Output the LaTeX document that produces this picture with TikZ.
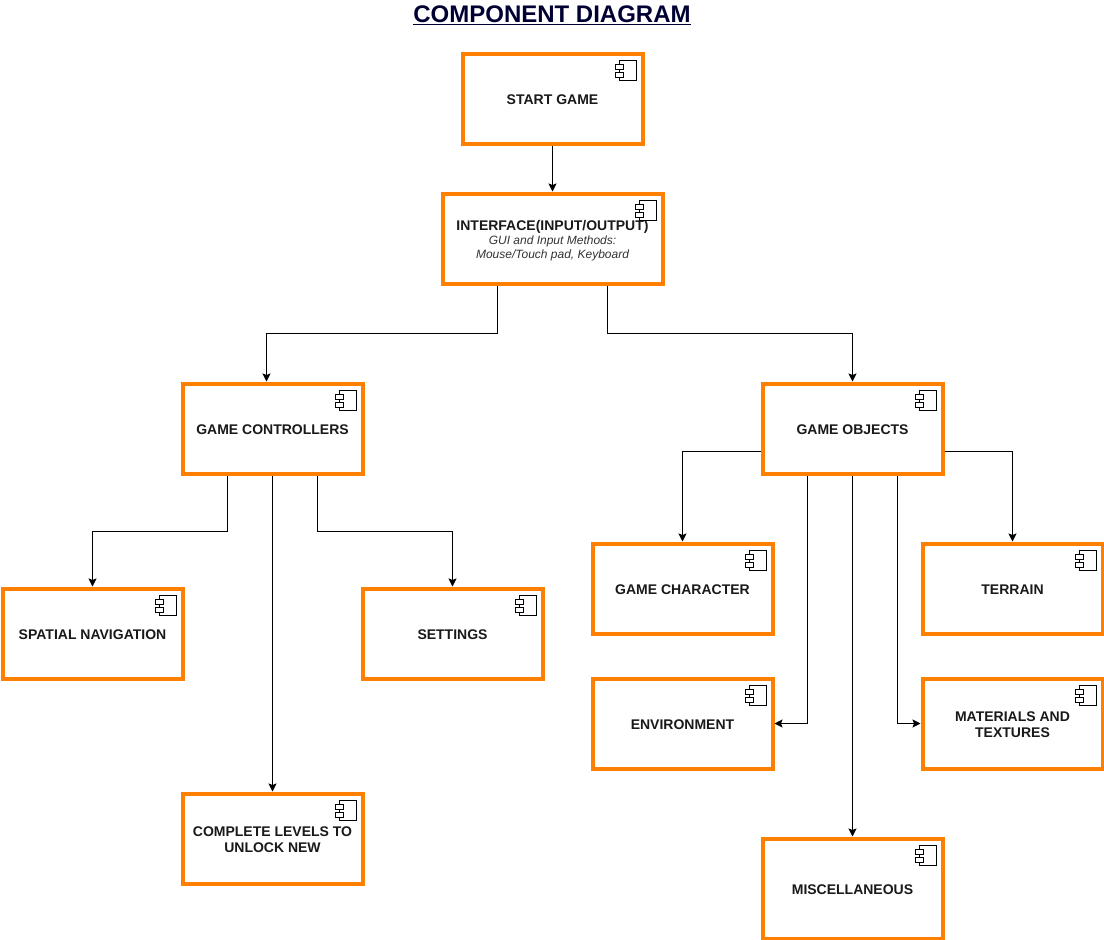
\documentclass[tikz,border=0pt]{standalone}
\usepackage{fontspec}
\setmainfont{Liberation Sans}
\usetikzlibrary{arrows.meta}
\definecolor{boxorange}{HTML}{FF8000}
\definecolor{titlenavy}{HTML}{000033}
\definecolor{subgray}{HTML}{333333}
\newcommand{\compicon}[1]{%
  \begin{scope}[shift={(#1.north east)},x=1pt,y=-1pt,line width=1pt]
    \draw[fill=white] (-25,9) rectangle (-8,29);
    \draw[fill=white] (-29,13) rectangle (-21,17.5);
    \draw[fill=white] (-29,21) rectangle (-21,25.5);
  \end{scope}}
\tikzset{
  compbox/.style={draw=boxorange,line width=4pt,fill=white,inner sep=0pt,
    minimum width=180pt,minimum height=90pt,align=center,text height=12pt,
    font=\fontsize{14}{16}\selectfont\bfseries,text=black!90},
  twoline/.style={text height=28pt},
  link/.style={draw=black,line width=1pt,-{Stealth[length=8pt,width=8pt,inset=1.5pt]}},
}
\begin{document}
\begin{tikzpicture}[x=1pt,y=-1pt]
\useasboundingbox (0,0) rectangle (1104,940);
\begin{scope}[shift={(0.5,0.5)}]
\node[font=\fontsize{24}{28}\selectfont\bfseries,text=titlenavy,inner sep=0pt] (title) at (551.5,14.5) {\underline{COMPONENT DIAGRAM}};
\node[compbox] (start) at (552,98) {START GAME};
\node[compbox,minimum width=220pt,text height=43pt] (iface) at (552,238) {INTERFACE(INPUT/OUTPUT)\\[-2pt]
  {\fontsize{12}{14}\selectfont\mdseries\itshape\color{subgray}GUI and Input Methods:}\\[-2pt]
  {\fontsize{12}{14}\selectfont\mdseries\itshape\color{subgray}Mouse/Touch pad, Keyboard}};
\node[compbox] (ctrl) at (272,428) {GAME CONTROLLERS};
\node[compbox] (obj) at (852,428) {GAME OBJECTS};
\node[compbox] (spatial) at (92,633) {SPATIAL NAVIGATION};
\node[compbox] (settings) at (452,633) {SETTINGS};
\node[compbox,twoline] (levels) at (272,838) {COMPLETE LEVELS TO\\UNLOCK NEW};
\node[compbox] (char) at (682,588) {GAME CHARACTER};
\node[compbox] (terrain) at (1012,588) {TERRAIN};
\node[compbox] (env) at (682,723) {ENVIRONMENT};
\node[compbox,twoline] (mat) at (1012,723) {MATERIALS AND\\TEXTURES};
\node[compbox,minimum height=100pt] (misc) at (852,888) {MISCELLANEOUS};
\foreach \n in {start,iface,ctrl,obj,spatial,settings,levels,char,terrain,env,mat,misc}{\compicon{\n}}
\draw[link] (start) -- (iface);
\coordinate (ifl) at ([xshift=-55pt]iface.south);
\coordinate (ifr) at ([xshift=55pt]iface.south);
\coordinate (ctrlin) at ([xshift=-6pt]ctrl.north);
\draw[link] (ifl) -- ++(0,47.7) -| (ctrlin);
\draw[link] (ifr) -- ++(0,47.7) -| (obj.north);
\coordinate (cl) at ([xshift=-45pt]ctrl.south);
\coordinate (cr) at ([xshift=45pt]ctrl.south);
\draw[link] (cl) -- ++(0,55.7) -| (spatial.north);
\draw[link] (cr) -- ++(0,55.7) -| (settings.north);
\draw[link] (ctrl.south) -- (levels.north);
\coordinate (ol) at ([yshift=-23pt]obj.west);
\coordinate (or) at ([yshift=-23pt]obj.east);
\draw[link] (ol) -| (char.north);
\draw[link] (or) -| (terrain.north);
\coordinate (obl) at ([xshift=-45pt]obj.south);
\coordinate (obr) at ([xshift=45pt]obj.south);
\draw[link] (obl) |- (env.east);
\draw[link] (obr) |- (mat.west);
\draw[link] (obj.south) -- (misc.north);
\end{scope}
\end{tikzpicture}
\end{document}
